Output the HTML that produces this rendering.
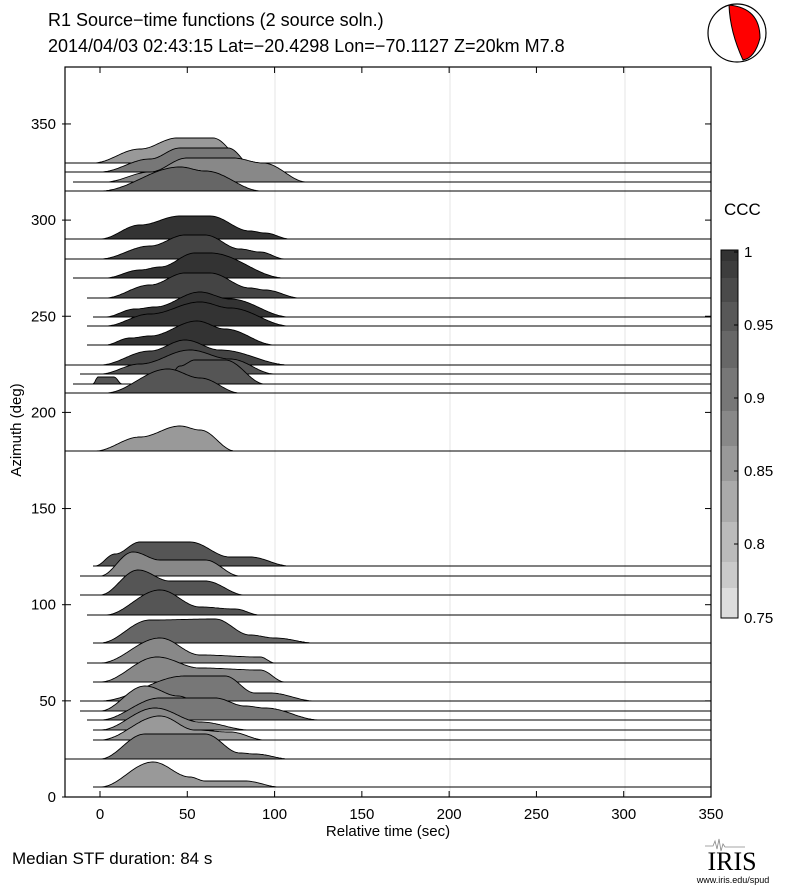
<!DOCTYPE html>
<html><head><meta charset="utf-8"><style>
body{margin:0;background:#fff;}
svg{display:block;font-family:"Liberation Sans",sans-serif;}
</style></head><body>
<svg id="s" width="787" height="887" xmlns="http://www.w3.org/2000/svg">
<rect width="787" height="887" fill="#fff"/>
<text x="48" y="26" font-size="18">R1 Source−time functions (2 source soln.)</text>
<text x="48" y="52" font-size="18">2014/04/03 02:43:15  Lat=−20.4298 Lon=−70.1127  Z=20km  M7.8</text>
<g stroke="#e6e6e6" stroke-width="1">
<line x1="275" y1="67" x2="275" y2="797"/><line x1="450" y1="67" x2="450" y2="797"/><line x1="625" y1="67" x2="625" y2="797"/>
</g>
<g id="tr"></g>
<rect x="65" y="67" width="646" height="730" fill="none" stroke="#000" stroke-width="1.2"/>
<g id="ax" font-size="15"></g>
<text x="388" y="836" font-size="15" text-anchor="middle">Relative time (sec)</text>
<text transform="translate(21,430) rotate(-90)" font-size="15" text-anchor="middle">Azimuth (deg)</text>
<text x="12" y="864" font-size="17">Median STF duration: 84 s</text>
<text x="724" y="215" font-size="17">CCC</text>
<g id="cb"></g>
<g font-size="15">
<text x="744" y="257">1</text><text x="744" y="330">0.95</text><text x="744" y="403">0.9</text><text x="744" y="476">0.85</text><text x="744" y="549">0.8</text><text x="744" y="623">0.75</text>
</g>
<circle cx="737" cy="33" r="29" fill="#fff" stroke="#000" stroke-width="1.2"/>
<path d="M729,5 Q760,8 760,38 Q755,58 743,60 Q730,32 729,5Z" fill="#f00" stroke="#000" stroke-width="1"/>
<text x="732" y="870" font-size="26" font-family="Liberation Serif,serif" text-anchor="middle">IRIS</text>
<path d="M705,846 l8,0 l2,-5 l2,8 l2,-10 l2,12 l2,-7 l2,3 l20,0" fill="none" stroke="#888" stroke-width="0.8"/>
<text x="733" y="883" font-size="9" text-anchor="middle">www.iris.edu/spud</text>
</svg>
<script>
var NS="http://www.w3.org/2000/svg";
function el(p,t,a){var e=document.createElementNS(NS,t);for(var k in a)e.setAttribute(k,a[k]);p.appendChild(e);return e;}
var tr=document.getElementById('tr');
var T=[
[163,65,'#999',[[93,0],[140,14],[177,25],[213,25],[247,0]]],
[172,65,'#777',[[100,0],[150,13],[180,24],[228,24],[258,0]]],
[182,73,'#888',[[105,0],[150,10],[187,24],[233,24],[263,19],[307,0]]],
[191,65,'#666',[[100,0],[180,24],[205,20],[262,0]]],
[239,65,'#333',[[100,0],[140,14],[180,23],[210,23],[250,8],[265,6],[290,0]]],
[259,65,'#444',[[100,0],[150,13],[185,24],[205,24],[240,10],[260,7],[285,0]]],
[278,73,'#333',[[105,0],[140,8],[160,11],[195,25],[210,25],[285,0]]],
[298,87,'#444',[[105,0],[150,13],[185,25],[210,25],[250,10],[265,8],[300,0]]],
[317,93,'#333',[[105,0],[135,8],[155,10],[200,25],[230,18],[290,0]]],
[326,87,'#333',[[105,0],[150,12],[200,24],[230,18],[290,0]]],
[345,87,'#333',[[105,0],[130,7],[150,9],[197,24],[225,16],[275,0]]],
[365,65,'#444',[[100,0],[150,14],[185,25],[220,15],[290,0]]],
[374,80,'#555',[[100,0],[140,10],[190,24],[230,15],[275,0]]],
[384,73,'#555',[[93,0],[98,7],[114,7],[122,0],[165,0],[180,18],[195,24],[225,24],[265,0]]],
[393,65,'#555',[[105,0],[168,24],[200,15],[240,0]]],
[451,65,'#999',[[95,0],[140,14],[180,25],[200,21],[235,0]]],
[566,93,'#555',[[95,0],[115,12],[140,24],[190,24],[230,9],[250,9],[290,0]]],
[576,80,'#888',[[100,0],[133,24],[160,16],[205,16],[240,0]]],
[595,80,'#555',[[100,0],[138,25],[170,14],[205,14],[245,0]]],
[615,87,'#555',[[105,0],[160,25],[200,8],[235,6],[260,0]]],
[643,93,'#666',[[100,0],[150,23],[215,24],[250,8],[275,5],[315,0]]],
[663,87,'#888',[[100,0],[160,25],[200,8],[260,6],[275,0]]],
[682,93,'#888',[[100,0],[157,25],[200,14],[260,12],[285,0]]],
[701,80,'#777',[[100,0],[185,25],[225,25],[255,8],[270,8],[315,0]]],
[711,80,'#888',[[100,0],[145,25],[178,15],[200,8],[220,0]]],
[720,87,'#777',[[100,0],[160,22],[215,22],[245,14],[265,12],[320,0]]],
[730,93,'#888',[[100,0],[155,22],[200,8],[250,0]]],
[740,93,'#999',[[100,0],[160,24],[195,10],[230,8],[265,0]]],
[759,65,'#777',[[100,0],[145,25],[205,25],[240,6],[255,5],[290,0]]],
[787,93,'#999',[[100,0],[153,25],[190,10],[205,6],[245,6],[280,0]]]
];
T.forEach(function(t){
 var b=t[0],k=t[3],d='M'+k[0][0]+','+b;
 for(var i=0;i<k.length-1;i++){var a=k[i],c=k[i+1];
  for(var x=a[0];x<=c[0];x+=1.5){var u=(x-a[0])/(c[0]-a[0]);var h=a[1]+(c[1]-a[1])*(1-Math.cos(Math.PI*u))/2;d+=' L'+x.toFixed(1)+','+(b-h).toFixed(1);}
  d+=' L'+c[0]+','+(b-c[1]);}
 d+=' Z';
 el(tr,'path',{d:d,fill:t[2],stroke:'#000','stroke-width':0.9});
 el(tr,'line',{x1:t[1],y1:b,x2:711,y2:b,stroke:'#000','stroke-width':1});
});
var ax=document.getElementById('ax');
for(var v=0;v<=350;v+=50){var x=100+v*1.7457;
 el(ax,'line',{x1:x,y1:797,x2:x,y2:791,stroke:'#000'});
 el(ax,'line',{x1:x,y1:67,x2:x,y2:73,stroke:'#000'});
 var t=el(ax,'text',{x:x,y:819,'text-anchor':'middle'});t.textContent=v;}
for(var v=0;v<=350;v+=50){var y=797-v*1.923;
 el(ax,'line',{x1:62,y1:y,x2:71,y2:y,stroke:'#000'});
 el(ax,'line',{x1:705,y1:y,x2:711,y2:y,stroke:'#000'});
 var t=el(ax,'text',{x:56,y:y+5,'text-anchor':'end'});t.textContent=v;}
var cb=document.getElementById('cb');
var e=[250,261,278,302,331,368,411,446,481,522,562,588,618];
var c=['#333','#3d3d3d','#4a4a4a','#585858','#676767','#777','#888','#999','#aaa','#bbb','#cacaca','#ddd'];
for(var i=0;i<12;i++)el(cb,'rect',{x:721,y:e[i],width:17,height:e[i+1]-e[i],fill:c[i]});
el(cb,'rect',{x:721,y:250,width:17,height:368,fill:'none',stroke:'#000'});
[252,325,398,471,544].forEach(function(y){el(cb,'line',{x1:734,y1:y,x2:738,y2:y,stroke:'#000'});});
</script>
</body></html>
